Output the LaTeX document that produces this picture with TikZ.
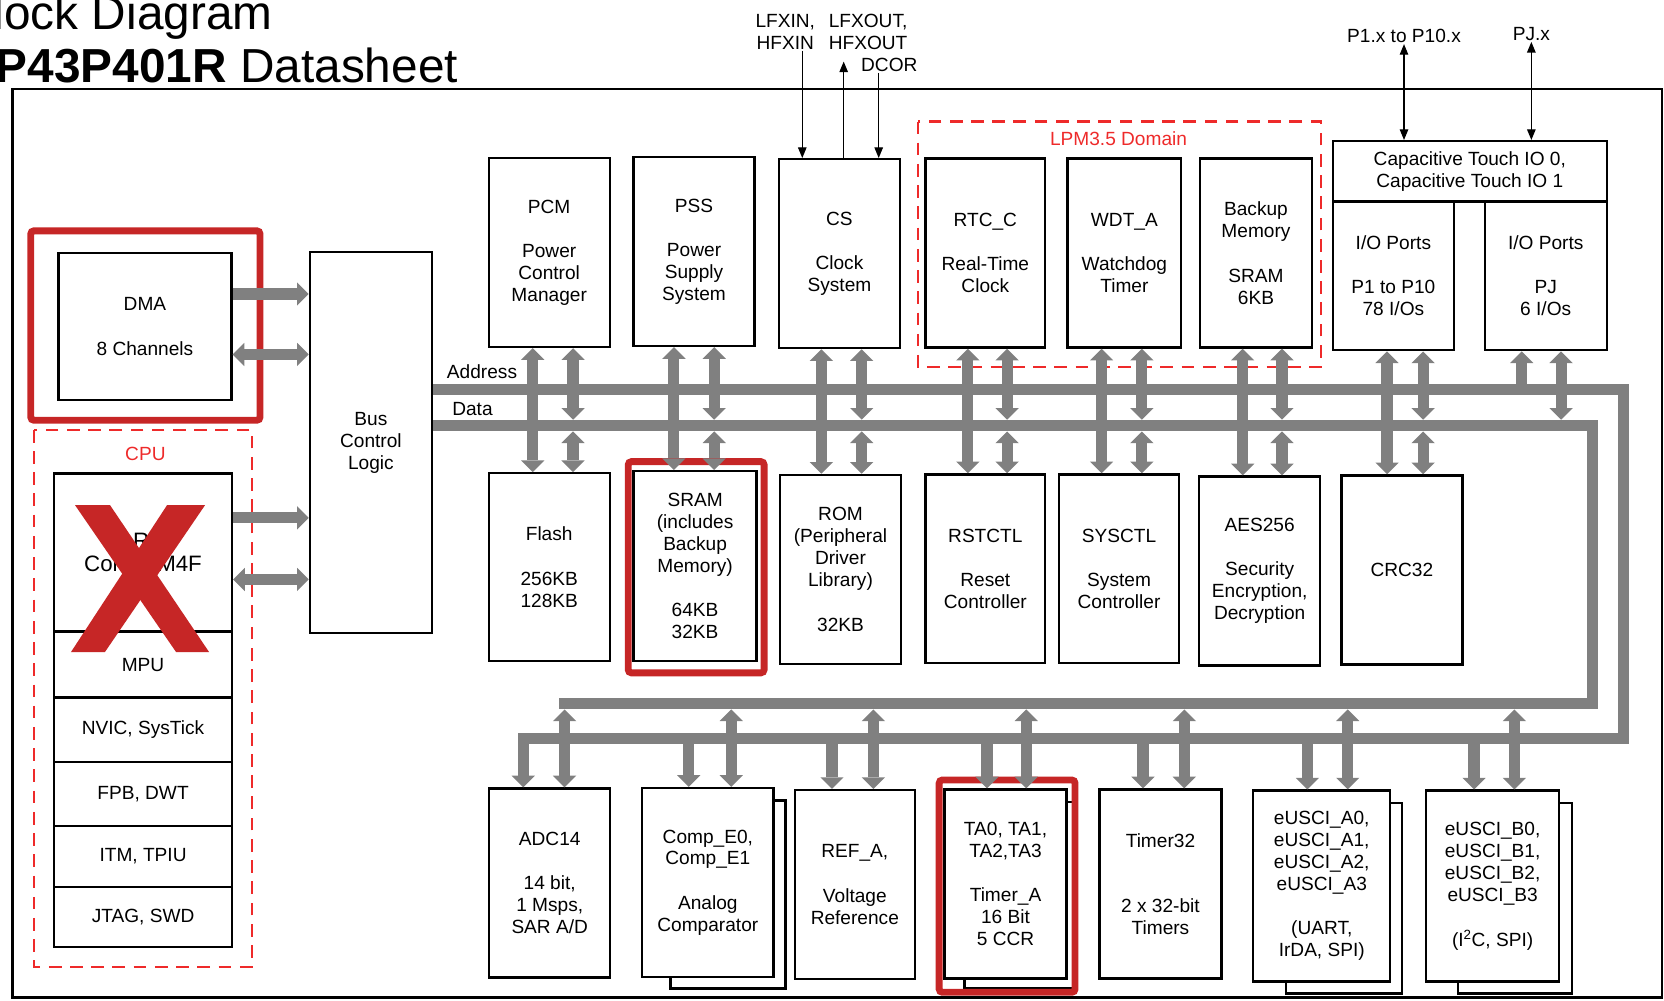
\documentclass[tikz,border=0pt]{standalone}
\usepackage{fontspec}
\setmainfont{Liberation Sans}
\usetikzlibrary{arrows.meta, positioning}
\definecolor{busgray}{HTML}{808080}
\definecolor{hired}{HTML}{C62626}
\definecolor{domred}{HTML}{EE2A2A}
\newcommand{\fsz}{\fontsize{18}{20.7}\selectfont}

\begin{document}
\begin{tikzpicture}[x=1pt, y=-1pt,
    box/.style={draw, line width=2.2pt, fill=white, align=center, inner sep=0pt,
                minimum width=114pt, minimum height=178pt, font=\fsz},
    row/.style={box, minimum width=167.6pt},
    bus/.style={draw=busgray, line width=10.5pt,
                >={Triangle[width=22pt, length=11pt, line width=0pt]}},
    sig/.style={line width=1.1pt, >={Triangle[width=8pt, length=10pt]}},
    lbl/.style={font=\fsz, align=center, inner sep=1pt},
    dombox/.style={draw=domred, line width=2pt, dash pattern=on 12pt off 8pt},
    hilite/.style={draw=hired, line width=6.5pt, rounded corners=3pt}
  ]
    \useasboundingbox (0,0) rectangle (1568,943);

    % Title
    \node[anchor=base west, inner sep=0pt, font=\fontsize{45}{50}\selectfont] (ttl1) at (-6,28) {lock Diagram};
    \node[anchor=base west, inner sep=0pt, font=\fontsize{45}{50}\selectfont] (ttl2) at (-4,78) {\textbf{P43P401R} Datasheet};

    % Frame
    \draw[line width=2.5pt] (12,84) rectangle (1566,940);

    % Domains
    \draw[dombox] (32,405) rectangle (237.5,911);
    \node[lbl, text=domred] (cpulbl) at (137,428) {CPU};
    \draw[dombox] (865,114.5) rectangle (1244.5,346);
    \node[lbl, text=domred] (lpmlbl) at (1054,131) {LPM3.5 Domain};

    % DMA
    \node[box, minimum width=163pt, minimum height=138pt] (dma) at (136.6,307.7) {DMA\\[21pt]8 Channels};
    \draw[hilite] (29,217.5) rectangle (245,396);

    % CPU stack
    \node[row, minimum height=149pt, font=\fontsize{21}{21.5}\selectfont] (cortex) at (134.8,520.6) {ARM\\Cortex-M4F};
    \node[row, minimum height=62pt] (mpu) at (134.8,626.4) {MPU};
    \node[row, minimum height=60.4pt] (nvic) at (134.8,687.6) {NVIC, SysTick};
    \node[row, minimum height=60.3pt] (fpb) at (134.8,748) {FPB, DWT};
    \node[row, minimum height=58pt] (itm) at (134.8,807.1) {ITM, TPIU};
    \node[row, minimum height=56pt] (jtag) at (134.8,864.1) {JTAG, SWD};

    % Bus control logic
    \node[box, minimum width=115pt, minimum height=359pt] (bcl) at (349.5,417) {Bus\\Control\\Logic};

    % Top row
    \node[box] (pcm) at (517.5,238) {PCM\\[21pt]Power\\Control\\Manager};
    \node[box] (pss) at (654,237) {PSS\\[21pt]Power\\Supply\\System};
    \node[box] (cs) at (791,239) {CS\\[21pt]Clock\\System};
    \node[box, minimum width=113pt] (rtc) at (928.5,238.5) {RTC\_C\\[21pt]Real-Time\\Clock};
    \node[box, minimum width=107pt] (wdt) at (1059.5,238.5) {WDT\_A\\[21pt]Watchdog\\Timer};
    \node[box, minimum width=105pt] (bak) at (1183.5,238.5) {Backup\\Memory\\[21pt]SRAM\\6KB};
    \node[box, minimum width=258pt, minimum height=57pt] (ctio) at (1385,161.5) {Capacitive Touch IO 0,\\Capacitive Touch IO 1};
    \node[box, minimum height=140pt] (iop) at (1313,260) {I/O Ports\\[21pt]P1 to P10\\78 I/Os};
    \node[box, minimum width=115pt, minimum height=140pt] (iopj) at (1456.5,260) {I/O Ports\\[21pt]PJ\\6 I/Os};

    % Middle row
    \node[box, minimum height=177pt] (flash) at (517.5,534.5) {Flash\\[21pt]256KB\\128KB};
    \node[box, minimum width=116pt, minimum height=179pt] (sram) at (655,533.5) {SRAM\\(includes\\Backup\\Memory)\\[21pt]64KB\\32KB};
    \node[box] (rom) at (792,536.5) {ROM\\(Peripheral\\Driver\\Library)\\[21pt]32KB};
    \node[box, minimum width=113pt] (rst) at (928.5,536) {RSTCTL\\[21pt]Reset\\Controller};
    \node[box, minimum width=113pt] (sys) at (1054.5,536) {SYSCTL\\[21pt]System\\Controller};
    \node[box] (aes) at (1187,538) {AES256\\[21pt]Security\\Encryption,\\Decryption};
    \node[box] (crc) at (1321,537) {CRC32};
    \draw[hilite] (592,435) rectangle (720,634);

    % Bottom row
    \node[box] (adc) at (518,832) {ADC14\\[21pt]14 bit,\\1 Msps,\\SAR A/D};
    \node[box, minimum width=124pt] (comp) at (667,831.5) {Comp\_E0,\\Comp\_E1\\[21pt]Analog\\Comparator};
    \node[box, minimum width=113pt] (ref) at (805.5,833.5) {REF\_A,\\[21pt]Voltage\\Reference};
    \node[box, minimum width=115pt] (ta) at (947.5,833) {TA0, TA1,\\TA2,TA3\\[21pt]Timer\_A\\16 Bit\\5 CCR};
    \node[box, minimum width=115pt] (t32) at (1093.5,833) {Timer32\\[40pt]2 x 32-bit\\Timers};
    \node[box, minimum width=129pt, minimum height=180pt] (uca) at (1245.5,835) {eUSCI\_A0,\\eUSCI\_A1,\\eUSCI\_A2,\\eUSCI\_A3\\[21pt](UART,\\IrDA, SPI)};
    \node[box, minimum width=125pt, minimum height=180pt] (ucb) at (1406.5,835) {eUSCI\_B0,\\eUSCI\_B1,\\eUSCI\_B2,\\eUSCI\_B3\\[22pt](I\textsuperscript{2}C, SPI)};

    % Stacked copies
    \foreach \n/\dx/\ox/\oy in {comp/28/10/10, ta/20/6/8, uca/32/10/10, ucb/31/11/10}
      \draw[line width=2.2pt] ([yshift=-13pt]\n.north east) -| ([xshift=\ox pt,yshift=-\oy pt]\n.south east) -| ([xshift=\dx pt]\n.south west);
    \draw[hilite] (885,735) rectangle (1013,935);

    % External signals
    \node[lbl] (xin) at (740,30) {LFXIN,\\HFXIN};
    \node[lbl] (xout) at (818,30) {LFXOUT,\\HFXOUT};
    \node[lbl] (dcor) at (838,61) {DCOR};
    \node[lbl] (p1x) at (1323,34) {P1.x to P10.x};
    \node[lbl] (pjx) at (1443,32) {PJ.x};
    \coordinate (xoutend) at (795,58);
    \draw[sig, ->] (756,0 |- xin.south) -- (756,0 |- cs.north);
    \draw[sig, ->] (795,0 |- cs.north) -- (xoutend);
    \draw[sig, ->] (828,0 |- dcor.south) -- (828,0 |- cs.north);
    \draw[sig, <->] (p1x.south) -- (p1x.south |- ctio.north);
    \draw[sig, <->] (pjx.south) -- (pjx.south |- ctio.north);

    % Bus labels
    \node[lbl, anchor=west] (addrlbl) at (420,350) {Address};
    \node[lbl, anchor=west] (datalbl) at (425,385) {Data};

    % Buses
    \coordinate (addr) at (0,367);
    \coordinate (dataT) at (0,395.5);
    \coordinate (dataB) at (0,406.5);
    \coordinate (dlow) at (0,668.5);
    \coordinate (alow) at (0,696);
    \coordinate (acorner) at (1530,696);
    \coordinate (dcorner) at (1501,663);
    \coordinate (dend) at (527,663);
    \draw[bus, ->] (bcl.east |- addr) -| (acorner) -| (493,0 |- adc.north);
    \draw[bus] (bcl.east |- 0,401) -| (dcorner) -- (dend);

    % Upper peripherals
    \foreach \u/\l/\xa/\xd in {pcm/flash/502/540, pss/sram/635/673, cs/rom/774/812,
        rtc/rst/912/949, wdt/sys/1038/1076, bak/aes/1171/1208, iop/crc/1307/1341} {
      \draw[bus, <->] (\xa,0 |- \u.south) -- (\xa,0 |- \l.north);
      \draw[bus, <->] (\xd,0 |- \u.south) -- (\xd,0 |- dataT);
      \draw[bus, <->] (\xd,0 |- dataB) -- (\xd,0 |- \l.north);
    }
    \draw[bus, <-] (1434,0 |- iopj.south) -- (1434,0 |- addr);
    \draw[bus, <->] (1471,0 |- iopj.south) -- (1471,0 |- dataT);

    % Lower peripherals
    \foreach \b/\xd in {adc/532, comp/689, ref/823, ta/967, t32/1116, uca/1270, ucb/1427}
      \draw[bus, <->] (\xd,0 |- dlow) -- (\xd,0 |- \b.north);
    \foreach \b/\xa in {comp/649, ref/784, ta/930, t32/1077, uca/1232, ucb/1389}
      \draw[bus, ->] (\xa,0 |- alow) -- (\xa,0 |- \b.north);

    % DMA and CPU to bus logic
    \draw[bus, ->] (dma.east |- 0,277) -- (bcl.west |- 0,277);
    \draw[bus, <->] (dma.east |- 0,334) -- (bcl.west |- 0,334);
    \draw[bus, ->] (cortex.east |- 0,488) -- (bcl.west |- 0,488);
    \draw[bus, <->] (cortex.east |- 0,546) -- (bcl.west |- 0,546);

    % Cross
    \fill[hired] (70.7,476) -- (103.7,476) -- (197,614.4) -- (165.9,614.4) -- cycle;
    \fill[hired] (157.4,476) -- (193.2,476) -- (98.9,614.4) -- (66.9,614.4) -- cycle;
  \end{tikzpicture}
\end{document}
